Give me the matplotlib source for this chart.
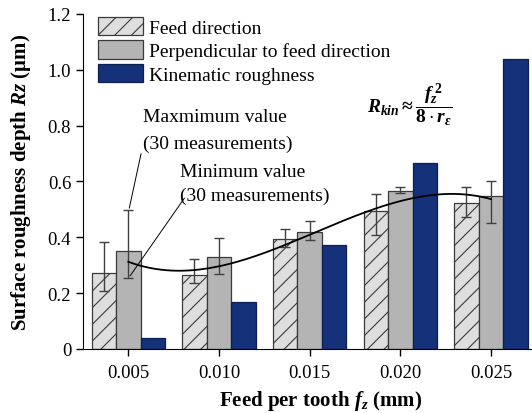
import numpy as np
import matplotlib
matplotlib.use('Agg')
import matplotlib.pyplot as plt

plt.rcParams['font.family'] = 'Liberation Serif'
plt.rcParams['mathtext.fontset'] = 'custom'
plt.rcParams['mathtext.rm'] = 'Liberation Serif:bold'
plt.rcParams['mathtext.it'] = 'Liberation Serif:bold:italic'
plt.rcParams['mathtext.bf'] = 'Liberation Serif:bold'
plt.rcParams['hatch.color'] = '#3a3a3a'
plt.rcParams['hatch.linewidth'] = 0.8

# data
feeds = ['0.005', '0.010', '0.015', '0.020', '0.025']
feed_dir = [0.274, 0.266, 0.395, 0.496, 0.524]
feed_lo = [0.208, 0.235, 0.364, 0.410, 0.474]
feed_hi = [0.382, 0.321, 0.431, 0.554, 0.581]
perp_dir = [0.350, 0.330, 0.418, 0.567, 0.549]
perp_lo = [0.256, 0.270, 0.391, 0.559, 0.452]
perp_hi = [0.498, 0.399, 0.460, 0.579, 0.600]
kinematic = [0.038, 0.168, 0.373, 0.667, 1.039]

x = np.arange(len(feeds))
w = 0.27
edge = '#3a3a3a'

fig = plt.figure(figsize=(5.32, 4.14), dpi=100)
ax = fig.add_axes([0.156, 0.1546, 0.852, 0.8092])

fd = np.array(feed_dir)
pd_ = np.array(perp_dir)
ax.bar(x - w, fd, w, color='#dedede', edgecolor=edge, hatch='//', lw=0.9,
       label='Feed direction')
ax.bar(x, pd_, w, color='#b4b4b4', edgecolor=edge, lw=0.9,
       label='Perpendicular to feed direction')
ax.bar(x + w, kinematic, w, color='#15317a', edgecolor='#0c1f50', lw=0.9,
       label='Kinematic roughness')

ax.errorbar(x - w, fd, yerr=[fd - np.array(feed_lo), np.array(feed_hi) - fd],
            fmt='none', ecolor='#404040', elinewidth=1, capsize=3.5, capthick=1)
ax.errorbar(x, pd_, yerr=[pd_ - np.array(perp_lo), np.array(perp_hi) - pd_],
            fmt='none', ecolor='#404040', elinewidth=1, capsize=3.5, capthick=1)

# trend line through the mean of both measuring directions
mean_vals = (fd + pd_) / 2
coef = np.polyfit(x, mean_vals, 3)
xs = np.linspace(0, 4, 200)
ax.plot(xs, np.polyval(coef, xs), color='black', lw=1.3)

ax.set_xlim(-0.5, 4.5)
ax.set_ylim(0, 1.2)
ax.set_xticks(x)
ax.set_xticklabels(feeds)
ax.set_yticks([0, 0.2, 0.4, 0.6, 0.8, 1.0, 1.2])
ax.set_yticklabels(['0', '0.2', '0.4', '0.6', '0.8', '1.0', '1.2'])
ax.tick_params(labelsize=13.5, direction='out', length=5, width=1)
ax.tick_params(axis='x', pad=6)
ax.spines['top'].set_visible(False)
ax.spines['right'].set_visible(False)

ax.set_ylabel('Surface roughness depth $Rz$ (μm)', fontsize=15, fontweight='bold')
ax.yaxis.set_label_coords(-0.136, 0.5)
ax.set_xlabel('Feed per tooth $f_z$ (mm)', fontsize=15, fontweight='bold')
ax.xaxis.set_label_coords(0.525, -0.152)
ax.xaxis.label.set_va('center')
ax.yaxis.label.set_va('center')

ax.legend(loc='upper left', bbox_to_anchor=(0.016, 1.015), frameon=False,
          fontsize=14, handlelength=2.3, handleheight=1.1, labelspacing=0.18,
          handletextpad=0.3, borderaxespad=0)

ax.text(0.166, 0.832, 'Maxmimum value', fontsize=14, va='center')
ax.text(0.166, 0.735, '(30 measurements)', fontsize=14, va='center')
ax.plot([0.14, 0.011], [0.699, 0.505], color='black', lw=0.7)
ax.text(0.57, 0.634, 'Minimum value', fontsize=14, va='center')
ax.text(0.57, 0.549, '(30 measurements)', fontsize=14, va='center')
ax.plot([0.618, 0.02], [0.540, 0.262], color='black', lw=0.7)

ax.text(2.63, 0.878, r'$R_{kin}\approx\dfrac{f_z^{\,2}}{8\cdot r_\varepsilon}$',
        fontsize=14, va='center', ha='left')

fig.savefig('out.png', dpi=100)
